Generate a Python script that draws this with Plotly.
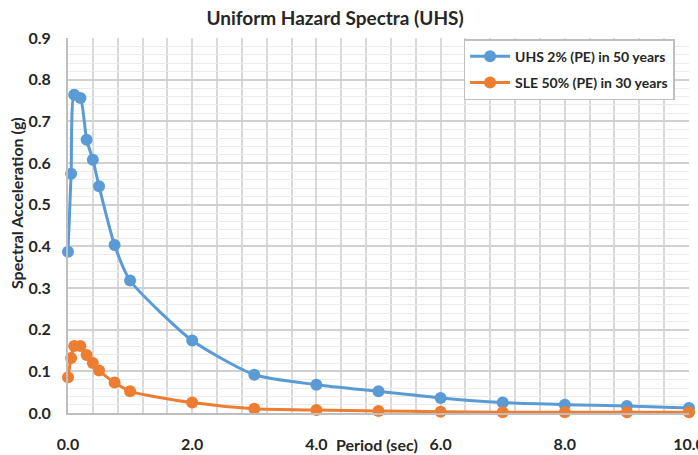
import plotly.graph_objects as go

# Spectral periods (sec)
periods = [0.0, 0.05, 0.1, 0.2, 0.3, 0.4, 0.5, 0.75, 1.0, 2.0, 3.0, 4.0, 5.0, 6.0, 7.0, 8.0, 9.0, 10.0]

# Spectral accelerations (g)
uhs_2pct_50yr = [0.387, 0.574, 0.764, 0.756, 0.656, 0.608, 0.544, 0.403, 0.318, 0.174,
                 0.092, 0.068, 0.052, 0.036, 0.025, 0.020, 0.017, 0.012]
sle_50pct_30yr = [0.086, 0.132, 0.161, 0.161, 0.139, 0.120, 0.102, 0.073, 0.052, 0.025,
                  0.010, 0.007, 0.005, 0.003, 0.002, 0.002, 0.002, 0.002]

x_ticks = [0, 2, 4, 6, 8, 10]
x_tick_labels = ["0.0", "2.0", "4.0", "6.0", "8.0", "10.0"]

BLUE = "#5B9BD5"
ORANGE = "#ED7D31"
FONT = "Lato, 'Open Sans', sans-serif"
TEXT = "#262626"

fig = go.Figure()
for name, vals, color in [
    ("UHS 2% (PE) in 50 years", uhs_2pct_50yr, BLUE),
    ("SLE 50% (PE) in 30 years", sle_50pct_30yr, ORANGE),
]:
    fig.add_trace(go.Scatter(
        x=periods, y=vals, name=name, legendgroup=name, mode="lines+markers",
        line=dict(color=color, width=3, shape="spline", smoothing=0.6),
        marker=dict(color=color, size=12),
        cliponaxis=False,
    ))

fig.update_layout(
    width=698, height=455,
    margin=dict(l=68, r=9, t=38, b=42),
    paper_bgcolor="white", plot_bgcolor="white",
    font=dict(family=FONT, color=TEXT),
    title=dict(text="<b>Uniform Hazard Spectra (UHS)</b>", x=0.48, xanchor="center",
               y=0.96, yanchor="middle", font=dict(size=19, family=FONT, color=TEXT)),
    showlegend=True,
    legend=dict(x=0.637, y=0.997, xanchor="left", yanchor="top",
                bgcolor="white", bordercolor="#bfbfbf", borderwidth=1.5,
                font=dict(size=14, family=FONT, color=TEXT, weight="bold"),
                itemwidth=40, tracegroupgap=5),
)

fig.update_xaxes(
    range=[0, 10], tickvals=x_ticks, ticktext=x_tick_labels,
    showgrid=True, gridcolor="#d9d9d9", gridwidth=1.5,
    minor=dict(dtick=0.4, tick0=0, showgrid=True, gridcolor="#d9d9d9", gridwidth=1.5),
    showline=True, linecolor="#bfbfbf", linewidth=2,
    ticks="", ticklabelstandoff=16, ticklabeloverflow="allow",
    tickfont=dict(size=16, family=FONT, color=TEXT, weight="bold"),
    zeroline=False, automargin=False,
)
fig.update_yaxes(
    range=[0, 0.9], dtick=0.1, tickformat=".1f",
    showgrid=True, gridcolor="#d0d0d0", gridwidth=1.5,
    minor=dict(dtick=0.02, showgrid=True, gridcolor="#ebebeb", gridwidth=1),
    showline=True, linecolor="#bfbfbf", linewidth=2,
    ticks="", ticklabelstandoff=12,
    tickfont=dict(size=16, family=FONT, color=TEXT, weight="bold"),
    zeroline=False, automargin=False,
)

# Axis titles
fig.add_annotation(
    text="<b>Period (sec)</b>", xref="paper", yref="paper",
    x=0.498, y=-0.085, xanchor="center", yanchor="middle", showarrow=False,
    font=dict(size=16, family=FONT, color=TEXT),
)
fig.add_annotation(
    text="<b>Spectral Acceleration (g)</b>", xref="paper", yref="paper",
    x=-0.082, y=0.56, xanchor="center", yanchor="middle", showarrow=False,
    textangle=-90, font=dict(size=16, family=FONT, color=TEXT),
)

fig.write_html("out.html")
